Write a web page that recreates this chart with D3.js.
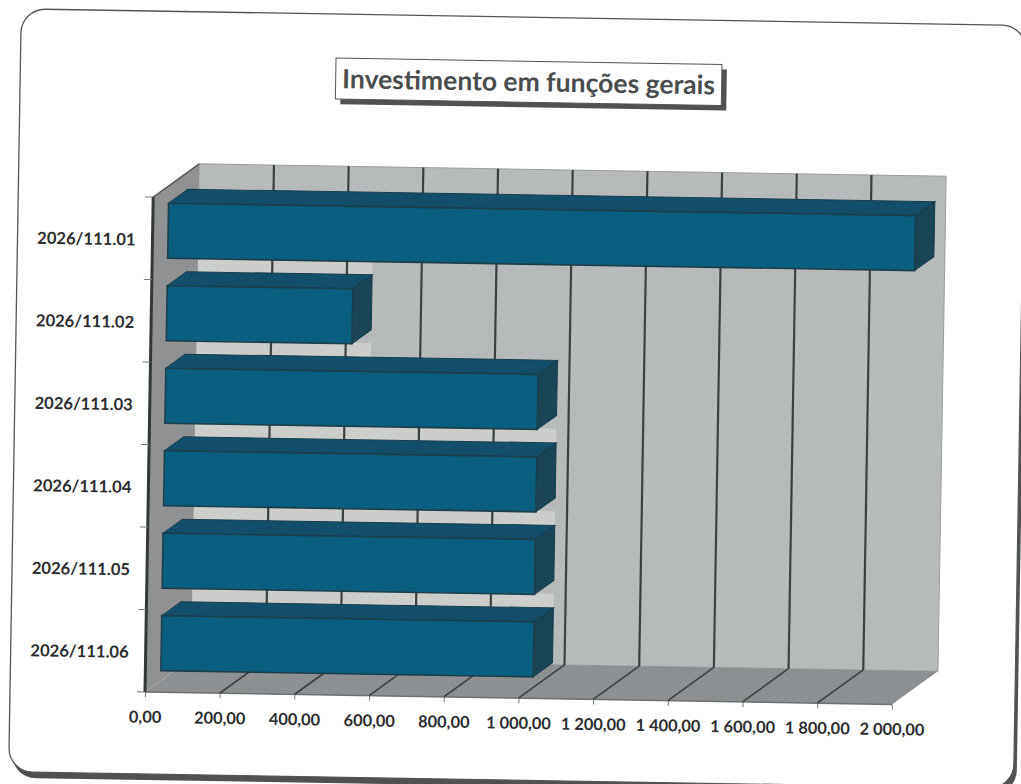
<!DOCTYPE html>
<html><head><meta charset="utf-8">
<script src="https://cdn.jsdelivr.net/npm/d3@7"></script>
<style>html,body{margin:0;padding:0;background:#fff;overflow:hidden}svg{display:block}
text{font-family:Lato,"Open Sans",sans-serif;font-weight:700}</style></head>
<body><svg id="c" width="1021" height="784"></svg>
<script>
const titleText = "Investimento em funções gerais";
const categories = ["2026/111.01","2026/111.02","2026/111.03","2026/111.04","2026/111.05","2026/111.06"];
const values = [2000, 497, 997, 997, 997, 997];
const xTicks = [0,200,400,600,800,1000,1200,1400,1600,1800,2000];

const svg = d3.select("#c");
const px = 145, py = 692;
const g = svg.append("g").attr("transform", `rotate(0.95 ${px} ${py})`);

// frame
const fx=10, fy=11, fw=1005, fh=763, fr=24;
g.append("rect").attr("x",fx+3).attr("y",fy+6).attr("width",fw).attr("height",fh).attr("rx",fr).attr("fill","#4f5252");
g.append("rect").attr("x",fx).attr("y",fy).attr("width",fw).attr("height",fh).attr("rx",fr)
  .attr("fill","#fff").attr("stroke","#555").attr("stroke-width",1.3);

// title
const tx=325.5, ty=55, tw=386, th=41;
g.append("rect").attr("x",tx+5).attr("y",ty+5).attr("width",tw).attr("height",th).attr("fill","#4f5252");
g.append("rect").attr("x",tx).attr("y",ty).attr("width",tw).attr("height",th).attr("fill","#fff").attr("stroke","#555").attr("stroke-width",1);
g.append("text").attr("x",tx+tw/2).attr("y",ty+30).attr("text-anchor","middle").attr("font-size",26.5).attr("fill","#4a4d4e").text(titleText);

// scales
const x = d3.scaleLinear().domain([0,2000]).range([px, px+747]);
const y = d3.scaleBand().domain(categories).range([py-495, py]);
const dx = 45.5, dy = -34;           // full depth of the plot box
const f0 = 0.34, f1 = 0.76;          // front/back of bars as fraction of the depth
const poly = pts => pts.map(p=>p.join(",")).join(" ");
const x0=x(0), x1=x(2000), yT=py-495, yB=py;
const bh = 55;
const ox = dx*f0, oy = dy*f0, bx = dx*(f1-f0), by = dy*(f1-f0);
const barTop = c => y(c)+y.bandwidth()/2-bh/2+oy+3.7;

// back wall
g.append("polygon").attr("points",poly([[x0+dx,yT+dy],[x1+dx,yT+dy],[x1+dx,yB+dy],[x0+dx,yB+dy]])).attr("fill","#b6babb").attr("stroke","#9a9d9e").attr("stroke-width",1);
// lighter wall visible in the gaps between neighbouring bars
g.selectAll("rect.strip").data(categories.slice(0,-1)).join("rect").attr("class","strip")
  .attr("x",x0+dx)
  .attr("width",(d,i)=>x(Math.min(values[i],values[i+1]))+ox+bx-x0-dx)
  .attr("y",d=>barTop(d)+bh-1)
  .attr("height",(d,i)=>barTop(categories[i+1])+by-barTop(d)-bh+2)
  .attr("fill","#cbcecb");
// floor
g.append("polygon").attr("points",poly([[x0,yB],[x1,yB],[x1+dx,yB+dy],[x0+dx,yB+dy]])).attr("fill","#8d9092");
g.append("line").attr("x1",x0).attr("x2",x1).attr("y1",yB).attr("y2",yB).attr("stroke","#6d7072").attr("stroke-width",1.5);
// side wall
g.append("polygon").attr("points",poly([[x0,yB],[x0,yT],[x0+dx,yT+dy],[x0+dx,yB+dy]])).attr("fill","#8f9193");
g.append("line").attr("x1",x0).attr("x2",x0).attr("y1",yT).attr("y2",yB).attr("stroke","#33383a").attr("stroke-width",3);
g.append("line").attr("x1",x0).attr("x2",x0+dx).attr("y1",yT).attr("y2",yT+dy).attr("stroke","#55595a").attr("stroke-width",1.5);

// gridlines
const grid = xTicks.filter(v=>v>0 && v<2000);
g.selectAll("line.gb").data(grid).join("line").attr("class","gb")
  .attr("x1",d=>x(d)+dx).attr("x2",d=>x(d)+dx).attr("y1",yT+dy).attr("y2",yB+dy)
  .attr("stroke","#3b4042").attr("stroke-width",2.2);
g.selectAll("line.gf").data(grid).join("line").attr("class","gf")
  .attr("x1",d=>x(d)).attr("x2",d=>x(d)+dx).attr("y1",yB).attr("y2",yB+dy)
  .attr("stroke","#3b4042").attr("stroke-width",1.6);

// bars
const rows = categories.map((c,i)=>({c,v:values[i]}));
g.selectAll("g.bar").data(rows).join("g").attr("class","bar").each(function(d){
  const s = d3.select(this);
  const L = x(0)+ox, R = x(d.v)+ox, T = barTop(d.c), B = T+bh;
  s.append("polygon").attr("points",poly([[L,T],[R,T],[R+bx,T+by],[L+bx,T+by]])).attr("fill","#134f6b").attr("stroke","#173f4e").attr("stroke-width",1);
  s.append("polygon").attr("points",poly([[R,T],[R+bx,T+by],[R+bx,B+by],[R,B]])).attr("fill","#1a4557").attr("stroke","#173f4e").attr("stroke-width",1);
  s.append("rect").attr("x",L).attr("y",T).attr("width",R-L).attr("height",bh).attr("fill","#0a5f80").attr("stroke","#1d3f4c").attr("stroke-width",1.6);
});

// axes
const fmt = d3.formatLocale({decimal:",",thousands:" ",grouping:[3],currency:["",""]}).format(",.2f");
const ax = g.append("g").attr("transform",`translate(0,${yB})`)
  .call(d3.axisBottom(x).tickValues(xTicks).tickFormat(fmt).tickSize(5).tickPadding(14));
const ay = g.append("g").attr("transform",`translate(${x0},0)`)
  .call(d3.axisLeft(y).tickSize(0).tickPadding(17));
ay.selectAll(".domain").remove(); ax.selectAll(".domain").remove();
ax.selectAll("line").attr("stroke","#777");
ax.selectAll("text").attr("font-size",16.4).attr("fill","#2b2d2e").style("font-family","Lato").style("font-weight",700);
ay.selectAll("text").attr("font-size",16.6).attr("fill","#2b2d2e").attr("dy","0.62em").style("font-family","Lato").style("font-weight",700);
ay.selectAll("text").attr("y",-3);
// category boundary ticks
g.selectAll("line.yt").data([...categories.map(c=>y(c)), yB]).join("line").attr("class","yt")
  .attr("x1",x0-8).attr("x2",x0).attr("y1",d=>d).attr("y2",d=>d).attr("stroke","#777").attr("stroke-width",1);
</script></body></html>
